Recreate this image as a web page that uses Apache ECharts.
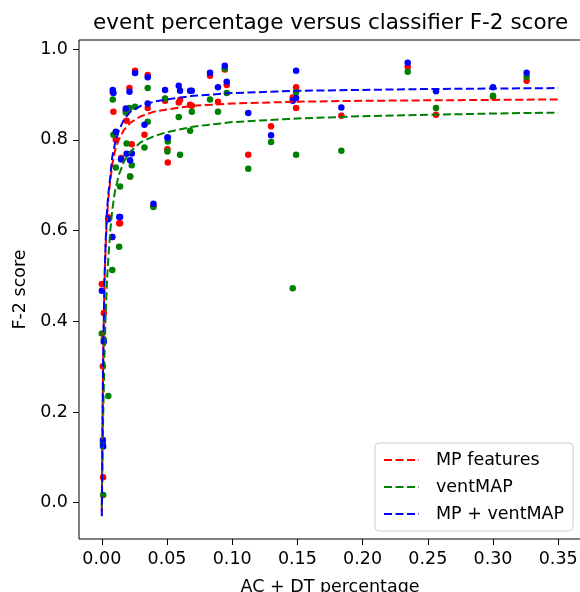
<!DOCTYPE html>
<html>
<head>
<meta charset="utf-8">
<script src="https://cdn.jsdelivr.net/npm/echarts@6/dist/echarts.min.js"></script>
<style>
html,body{margin:0;padding:0;background:#fff;}
#c{width:580px;height:592px;}
</style>
</head>
<body>
<div id="c"></div>
<script>
// ---- data ----
const seriesNames = ['MP features', 'ventMAP', 'MP + ventMAP'];
const xTicks = [0, 0.05, 0.10, 0.15, 0.20, 0.25, 0.30, 0.35];
const yTicks = [0, 0.2, 0.4, 0.6, 0.8, 1.0];

// event percentage of each recording
const eventPct = [0.0000, 0.0008, 0.0010, 0.0015, 0.0050, 0.0080, 0.0133, 0.0140, 0.0084, 0.0089, 0.0107, 0.0148, 0.0184, 0.0190, 0.0212, 0.0217, 0.0230, 0.0255, 0.0327, 0.0352, 0.0352, 0.0396, 0.0485, 0.0503, 0.0506, 0.0590, 0.0600, 0.0677, 0.0690, 0.0830, 0.0891, 0.0943, 0.0958, 0.1123, 0.1298, 0.1464, 0.1490, 0.1490, 0.1837, 0.2346, 0.2563, 0.3000, 0.3258];
const f2MP =      [0.482, 0.301, 0.056, 0.418, 0.629, 0.586, 0.616, 0.616, 0.905, 0.862, 0.800, 0.760, 0.864, 0.842, 0.914, 0.719, 0.790, 0.952, 0.811, 0.943, 0.870, 0.655, 0.886, 0.779, 0.750, 0.882, 0.888, 0.877, 0.875, 0.941, 0.884, 0.955, 0.921, 0.767, 0.830, 0.893, 0.916, 0.870, 0.853, 0.961, 0.855, 0.895, 0.930];
const f2Vent =    [0.373, 0.130, 0.017, 0.360, 0.235, 0.513, 0.564, 0.697, 0.889, 0.811, 0.739, 0.757, 0.860, 0.792, 0.870, 0.719, 0.744, 0.873, 0.783, 0.914, 0.840, 0.652, 0.891, 0.774, 0.796, 0.850, 0.767, 0.820, 0.862, 0.889, 0.862, 0.957, 0.903, 0.736, 0.795, 0.473, 0.905, 0.767, 0.776, 0.950, 0.870, 0.897, 0.939];
const f2Both =    [0.467, 0.138, 0.124, 0.355, 0.625, 0.586, 0.630, 0.630, 0.910, 0.903, 0.818, 0.757, 0.869, 0.769, 0.906, 0.755, 0.770, 0.947, 0.833, 0.938, 0.880, 0.659, 0.910, 0.805, 0.805, 0.919, 0.908, 0.908, 0.908, 0.948, 0.916, 0.963, 0.928, 0.859, 0.810, 0.886, 0.952, 0.892, 0.871, 0.970, 0.907, 0.916, 0.948];

// fitted curves
const curveX =    [0, 0.0005, 0.001, 0.002, 0.003, 0.004, 0.005, 0.0065, 0.008, 0.010, 0.013, 0.017, 0.022, 0.030, 0.040, 0.050, 0.070, 0.100, 0.150, 0.200, 0.250, 0.300, 0.350];
const fitMP =     [-0.02, 0.17, 0.31, 0.48, 0.57, 0.63, 0.67, 0.71, 0.745, 0.775, 0.800, 0.822, 0.838, 0.852, 0.862, 0.867, 0.875, 0.880, 0.884, 0.886, 0.887, 0.888, 0.889];
const fitVent =   [-0.01, 0.09, 0.18, 0.32, 0.42, 0.49, 0.54, 0.60, 0.645, 0.685, 0.722, 0.752, 0.774, 0.795, 0.808, 0.817, 0.829, 0.839, 0.847, 0.852, 0.855, 0.858, 0.860];
const fitBoth =   [-0.03, 0.17, 0.31, 0.49, 0.58, 0.645, 0.68, 0.72, 0.762, 0.790, 0.820, 0.845, 0.862, 0.875, 0.884, 0.889, 0.897, 0.903, 0.908, 0.910, 0.912, 0.913, 0.914];

const colors = ['#ff0000', '#008000', '#0000ff'];

function pairs(xs, ys) { return xs.map((x, i) => [x, ys[i]]); }

const FONT = 'DejaVu Sans';
const FS = 17.5;
const chart = echarts.init(document.getElementById('c'), null, {renderer: 'canvas'});

const scatterSets = [f2MP, f2Vent, f2Both];
const fitSets = [fitMP, fitVent, fitBoth];

const series = [];
scatterSets.forEach((ys, i) => {
  series.push({
    name: seriesNames[i] + ' points',
    type: 'scatter',
    data: pairs(eventPct, ys),
    symbol: 'circle',
    symbolSize: 6.5,
    clip: false,
    itemStyle: {color: colors[i], opacity: 1},
    emphasis: {disabled: true},
    z: 2
  });
});
fitSets.forEach((ys, i) => {
  series.push({
    name: seriesNames[i],
    type: 'line',
    data: pairs(curveX, ys),
    showSymbol: false,
    symbol: 'none',
    clip: false,
    lineStyle: {color: colors[i], width: 2, type: [8, 3.5]},
    itemStyle: {color: colors[i]},
    emphasis: {disabled: true},
    z: 3
  });
});

chart.setOption({
  animation: false,
  backgroundColor: '#fff',
  title: {
    text: 'event percentage versus classifier F-2 score',
    left: 88, top: 7,
    textStyle: {fontFamily: FONT, fontSize: 21.5, fontWeight: 'normal', color: '#000'}
  },
  grid: {
    left: 79, right: -1, top: 40, bottom: 53,
    outerBoundsMode: 'none',
    containLabel: false,
    show: true, borderColor: '#000', borderWidth: 1, backgroundColor: 'transparent'
  },
  legend: {
    data: seriesNames,
    orient: 'vertical',
    left: 375, top: 443,
    padding: [8, 9, 8, 8],
    itemWidth: 35, itemHeight: 14, itemGap: 9,
    backgroundColor: '#fff',
    borderColor: '#cccccc', borderWidth: 1, borderRadius: 4,
    selectedMode: false,
    itemStyle: {opacity: 0},
    textStyle: {fontFamily: FONT, fontSize: FS, color: '#000', padding: [0, 0, 0, 12]}
  },
  xAxis: {
    type: 'value',
    min: -0.0175, max: 0.3675,
    name: 'AC + DT percentage',
    nameLocation: 'middle', nameGap: 39,
    nameTextStyle: {fontFamily: FONT, fontSize: FS, color: '#000'},
    axisLine: {show: false, onZero: false},
    axisTick: {show: true, customValues: xTicks, length: 6, inside: false, lineStyle: {color: '#000', width: 1}},
    axisLabel: {customValues: xTicks, formatter: v => v.toFixed(2), fontFamily: FONT, fontSize: FS, color: '#000', margin: 11},
    splitLine: {show: false}
  },
  yAxis: {
    type: 'value',
    min: -0.08, max: 1.02,
    name: 'F-2 score',
    nameLocation: 'middle', nameGap: 50, nameRotate: 90,
    nameTextStyle: {fontFamily: FONT, fontSize: FS, color: '#000'},
    axisLine: {show: false, onZero: false},
    axisTick: {show: true, customValues: yTicks, length: 6, inside: false, lineStyle: {color: '#000', width: 1}},
    axisLabel: {customValues: yTicks, formatter: v => v.toFixed(1), fontFamily: FONT, fontSize: FS, color: '#000', margin: 11},
    splitLine: {show: false}
  },
  series: series
});
</script>
</body>
</html>
